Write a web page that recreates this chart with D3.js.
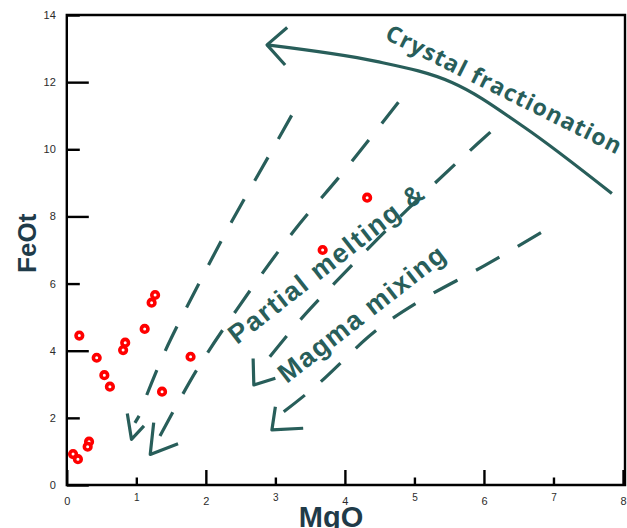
<!DOCTYPE html>
<html>
<head>
<meta charset="utf-8">
<script src="https://cdn.jsdelivr.net/npm/d3@7"></script>
<style>
  body { margin: 0; background: #fff; }
  svg { display: block; }
</style>
</head>
<body>
<div id="chart"></div>
<script>
// sample points (MgO, FeOt)
var mgo  = [0.09, 0.16, 0.18, 0.32, 0.30, 0.43, 0.54, 0.62, 0.84, 0.81, 1.12, 1.27, 1.22, 1.37, 1.78, 4.32, 3.68];
var feot = [0.92, 0.77, 4.45, 1.29, 1.14, 3.79, 3.27, 2.93, 4.24, 4.02, 4.65, 5.66, 5.43, 2.78, 3.82, 8.56, 7.00];

var xMajor = [0, 2, 4, 6, 8];
var xMinor = [1, 3, 5, 7];
var yMajor = [0, 4, 8, 12];
var yMinor = [2, 6, 10, 14];

// trend lines drawn on the diagram, in data units
var dashA = [[1.15, 2.68], [1.41, 3.97], [1.89, 5.96], [2.37, 7.84], [2.90, 9.78], [3.25, 11.07]];
var dashB = [[1.34, 1.46], [1.87, 3.43], [2.44, 5.21], [3.26, 7.55], [4.00, 9.38], [4.87, 11.67]];
var dashC = [[2.92, 3.82], [3.38, 4.97], [4.15, 6.65], [4.89, 8.19], [5.73, 9.83], [6.26, 10.82]];
var dashD = [[3.12, 2.18], [3.60, 2.98], [4.43, 4.57], [5.06, 5.46], [6.02, 6.55], [7.05, 7.80]];
var heads = [
  [[0.87, 2.13], [0.93, 1.36], [1.11, 1.76]],
  [[0.98, 1.85], [1.04, 2.06]],
  [[1.25, 1.86], [1.20, 0.91], [1.60, 1.23]],
  [[2.68, 3.77], [2.69, 2.98], [3.00, 3.18]],
  [[3.00, 2.33], [2.95, 1.64], [3.40, 1.69]]
];
var crystal = [[7.84, 8.68], [6.57, 10.67], [5.54, 11.99], [4.45, 12.62], [2.88, 13.11]];
var crystalHead = [[3.17, 13.63], [2.88, 13.11], [3.14, 12.51]];

var labels = [
  { text: "Crystal fractionation", at: [4.56, 13.30], angle: 26.5, size: 23, len: 260, font: "'Open Sans'", weight: 700, anchor: "start", base: "auto" },
  { text: "Partial melting &", at: [3.73, 6.58], angle: -38, size: 27, len: 240, font: "'Liberation Sans', Arial", weight: 700, anchor: "middle", base: "central" },
  { text: "Magma mixing", at: [4.24, 5.09], angle: -38, size: 27, len: 204, font: "'Liberation Sans', Arial", weight: 700, anchor: "middle", base: "central" }
];

var W = 627, H = 528;
var teal = "#285e5a";

var svg = d3.select('#chart').append('svg')
    .attr('width', W)
    .attr('height', H);

var x = d3.scaleLinear().domain([0, 8]).range([66.8, 623]);
var y = d3.scaleLinear().domain([0, 14]).range([485, 15]);

function styleAxis(g, size) {
    g.select('.domain').remove();
    g.selectAll('.tick line').attr('stroke', '#000').attr('stroke-width', 2.4);
    g.selectAll('.tick text')
        .attr('fill', '#2b2b2b')
        .style('font-family', "'Liberation Sans', Arial, sans-serif")
        .style('font-size', size + 'px');
}

svg.append('g').attr('transform', 'translate(0,485)')
    .call(d3.axisBottom(x).tickValues(xMajor).tickSize(-15).tickPadding(12).tickFormat(d3.format('d')))
    .call(styleAxis, 11);
svg.append('g').attr('transform', 'translate(0,485)')
    .call(d3.axisBottom(x).tickValues(xMinor).tickSize(-7.5).tickPadding(9).tickFormat(d3.format('d')))
    .call(styleAxis, 10);
svg.append('g').attr('transform', 'translate(66.8,0)')
    .call(d3.axisLeft(y).tickValues(yMajor).tickSize(-22).tickPadding(11).tickFormat(d3.format('d')))
    .call(styleAxis, 11);
svg.append('g').attr('transform', 'translate(66.8,0)')
    .call(d3.axisLeft(y).tickValues(yMinor).tickSize(-13).tickPadding(11).tickFormat(d3.format('d')))
    .call(styleAxis, 11);

// frame
svg.append('path')
    .attr('d', 'M' + x(0) + ',' + y(0) + 'V' + y(14) + 'H' + (x(8) + 2) + 'V' + y(0) + 'Z')
    .attr('fill', 'none')
    .attr('stroke', '#000')
    .attr('stroke-width', 2.4);

// axis titles
svg.append('text')
    .attr('transform', 'translate(36,' + y(7.2) + ') rotate(-90)')
    .attr('text-anchor', 'middle')
    .attr('fill', '#1f3b49')
    .style('font-family', "'Liberation Sans', Arial, sans-serif")
    .style('font-weight', 700)
    .style('font-size', '26px')
    .text('FeOt');
svg.append('text')
    .attr('x', x(3.8))
    .attr('y', 527)
    .attr('text-anchor', 'middle')
    .attr('fill', '#1f3b49')
    .style('font-family', "'Liberation Sans', Arial, sans-serif")
    .style('font-weight', 700)
    .style('font-size', '29px')
    .text('MgO');

var line = d3.line().x(function(d) { return x(d[0]); }).y(function(d) { return y(d[1]); });
var smooth = d3.line().curve(d3.curveCatmullRom).x(function(d) { return x(d[0]); }).y(function(d) { return y(d[1]); });

svg.selectAll('path.dash')
    .data([dashA, dashB, dashC, dashD])
    .enter()
    .append('path')
    .attr('class', 'dash')
    .attr('d', smooth)
    .attr('fill', 'none')
    .attr('stroke', teal)
    .attr('stroke-width', 3.2)
    .attr('stroke-dasharray', '27,21');

svg.selectAll('path.head')
    .data(heads.concat([crystalHead]))
    .enter()
    .append('path')
    .attr('class', 'head')
    .attr('d', line)
    .attr('fill', 'none')
    .attr('stroke', teal)
    .attr('stroke-width', 3.2)
    .attr('stroke-linejoin', 'round');

svg.append('path')
    .datum(crystal)
    .attr('d', smooth)
    .attr('fill', 'none')
    .attr('stroke', teal)
    .attr('stroke-width', 3.2)
    .attr('stroke-linejoin', 'round');

svg.selectAll('text.note')
    .data(labels)
    .enter()
    .append('text')
    .attr('class', 'note')
    .attr('transform', function(d) { return 'translate(' + x(d.at[0]) + ',' + y(d.at[1]) + ') rotate(' + d.angle + ')'; })
    .attr('text-anchor', function(d) { return d.anchor; })
    .attr('dominant-baseline', function(d) { return d.base; })
    .attr('textLength', function(d) { return d.len; })
    .attr('lengthAdjust', 'spacing')
    .attr('fill', teal)
    .style('font-family', function(d) { return d.font + ', sans-serif'; })
    .style('font-weight', function(d) { return d.weight; })
    .style('font-size', function(d) { return d.size + 'px'; })
    .text(function(d) { return d.text; });

// samples
svg.selectAll('circle')
    .data(mgo)
    .enter()
    .append('circle')
    .attr('cx', function(d) { return x(d); })
    .attr('cy', function(d, i) { return y(feot[i]); })
    .attr('r', 3.3)
    .attr('fill', '#fff')
    .attr('stroke', '#ff0000')
    .attr('stroke-width', 3.6);
</script>
</body>
</html>
